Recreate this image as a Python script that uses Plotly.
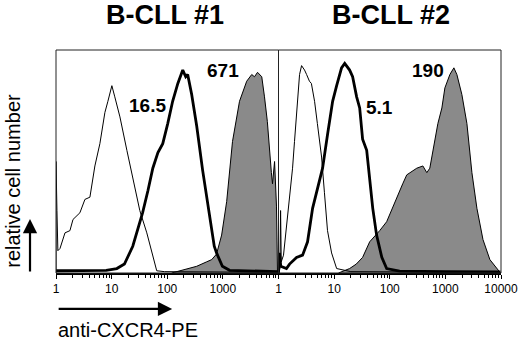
import plotly.graph_objects as go
from plotly.subplots import make_subplots

panel_titles = ["B-CLL #1", "B-CLL #2"]
x_axis_label = "anti-CXCR4-PE"
y_axis_label = "relative cell number"
tick_vals = [1, 10, 100, 1000, 10000]
tick_text_p1 = ["1", "10", "100", "1000", ""]
tick_text_p2 = ["1", "10", "100", "1000", "10000"]

# ---- Panel 1 (B-CLL #1) ----
p1_iso_x = [1.0, 1.0, 1.04, 1.08, 1.18, 1.45, 1.78, 2.02, 2.69, 3.31, 4.07, 5.0, 6.15, 7.57, 8.57,
            10.1, 11.4, 14.1, 18.8, 24.1, 32.1, 42.9, 55, 64.7, 90, 300, 3000, 9800]
p1_iso_y = [0.0, 0.50, 0.28, 0.10, 0.11, 0.18, 0.19, 0.24, 0.27, 0.33, 0.34, 0.48, 0.58, 0.72, 0.77,
            0.84, 0.79, 0.70, 0.55, 0.42, 0.28, 0.18, 0.07, 0.01, 0.006, 0.005, 0.004, 0.003]

p1_ab_x = [1.0, 3.0, 8.0, 12.4, 17, 24, 29.5, 36, 45, 55, 68, 83, 102, 110, 125, 155, 190, 215,
           233, 275, 338, 433, 580, 700, 770, 980, 1320, 5000, 9800]
p1_ab_y = [0.01, 0.01, 0.012, 0.02, 0.04, 0.12, 0.20, 0.27, 0.37, 0.47, 0.54, 0.58, 0.67, 0.71, 0.77,
           0.85, 0.91, 0.88, 0.89, 0.80, 0.66, 0.46, 0.24, 0.12, 0.09, 0.03, 0.012, 0.008, 0.006]

p1_cxcr4_x = [120, 167, 250, 338, 510, 630, 770, 950, 1170, 1490, 1990, 2680, 3300, 3700, 4200,
              5000, 5600, 6300, 7450, 7800, 8500, 9200, 9600]
p1_cxcr4_y = [0.0, 0.01, 0.02, 0.03, 0.05, 0.06, 0.085, 0.17, 0.32, 0.59, 0.77, 0.86, 0.89, 0.88, 0.90,
              0.88, 0.79, 0.68, 0.45, 0.40, 0.50, 0.30, 0.0]

# ---- Panel 2 (B-CLL #2) ----
p2_iso_x = [1.0, 1.06, 1.09, 1.12, 1.23, 1.39, 1.58, 1.79, 1.94, 2.2, 2.39, 2.6, 2.94, 3.2, 3.6,
            3.9, 4.45, 5.0, 5.95, 6.7, 7.6, 9.0, 11.1, 20, 200, 3000, 9800]
p2_iso_y = [0.0, 0.02, 0.28, 0.05, 0.08, 0.20, 0.32, 0.47, 0.59, 0.78, 0.89, 0.93, 0.91, 0.89, 0.86,
            0.85, 0.77, 0.67, 0.52, 0.36, 0.19, 0.09, 0.02, 0.006, 0.005, 0.004, 0.003]

p2_ab_x = [1.0, 1.04, 1.1, 1.39, 1.58, 2.11, 2.71, 3.33, 4.1, 5.05, 6.2, 7.6, 9.4, 11.1, 13.6, 15.5,
           19, 21.5, 25.4, 28.8, 32.5, 38.5, 43.6, 49.5, 58, 72, 88, 150, 1000, 9800]
p2_ab_y = [0.0, 0.09, 0.03, 0.02, 0.04, 0.07, 0.08, 0.14, 0.29, 0.38, 0.47, 0.62, 0.77, 0.84, 0.92, 0.94,
           0.91, 0.88, 0.79, 0.74, 0.60, 0.55, 0.41, 0.29, 0.17, 0.07, 0.02, 0.008, 0.006, 0.005]

p2_cxcr4_x = [12, 19, 25, 32.5, 43.6, 66, 88, 123, 171, 202, 260, 306, 394, 464, 525, 596, 646, 733,
              865, 980, 1205, 1422, 1610, 1980, 2440, 3000, 3690, 4740, 6310, 8830, 9800]
p2_cxcr4_y = [0.0, 0.02, 0.04, 0.07, 0.14, 0.19, 0.23, 0.32, 0.40, 0.44, 0.46, 0.47, 0.48, 0.45, 0.47,
              0.55, 0.59, 0.67, 0.74, 0.83, 0.89, 0.92, 0.89, 0.80, 0.67, 0.45, 0.29, 0.15, 0.06, 0.01, 0.0]

mfi_labels = [("16.5", 1, 1.65, 0.753), ("671", 1, 3.0, 0.906),
              ("5.1", 2, 1.82, 0.744), ("190", 2, 2.685, 0.906)]

FONT = "Liberation Sans, Arial, sans-serif"
FILL = "#8a8a8a"

fig = make_subplots(rows=1, cols=2, horizontal_spacing=0)

panels = [
    (p1_iso_x, p1_iso_y, p1_ab_x, p1_ab_y, p1_cxcr4_x, p1_cxcr4_y),
    (p2_iso_x, p2_iso_y, p2_ab_x, p2_ab_y, p2_cxcr4_x, p2_cxcr4_y),
]
for i, (ix, iy, ax_, ay_, cx, cy) in enumerate(panels, start=1):
    fig.add_trace(go.Scatter(x=cx, y=cy, mode="lines", fill="tozeroy", fillcolor=FILL,
                             line=dict(color="black", width=1)), row=1, col=i)
    fig.add_trace(go.Scatter(x=ix, y=iy, mode="lines",
                             line=dict(color="black", width=1)), row=1, col=i)
    fig.add_trace(go.Scatter(x=ax_, y=ay_, mode="lines",
                             line=dict(color="black", width=2.8)), row=1, col=i)

xcommon = dict(type="log", range=[0, 4], showgrid=False, zeroline=False,
               showline=True, linecolor="black", linewidth=2, mirror=False,
               ticks="outside", ticklen=4, tickwidth=1, tickcolor="black",
               tickfont=dict(family=FONT, size=12, color="black"),
               tickvals=tick_vals, automargin=False,
               minor=dict(ticks="outside", ticklen=2.5, tickcolor="black", dtick="D1", showgrid=False))
fig.update_xaxes(**xcommon)
fig.update_layout(
    xaxis=dict(domain=[0, 0.5], ticktext=tick_text_p1),
    xaxis2=dict(domain=[0.5, 1], ticktext=tick_text_p2),
)
fig.update_yaxes(range=[0, 1], showgrid=False, zeroline=False, showticklabels=False,
                 showline=False, ticks="", automargin=False)

for xr, yr in [("x domain", "y domain"), ("x2 domain", "y2 domain")]:
    fig.add_shape(type="rect", xref=xr, yref=yr, x0=0, x1=1, y0=0, y1=1,
                  line=dict(color="#222222", width=1), layer="above")

ann = []
title_x = [0.245, 0.753]
for t, xx in zip(panel_titles, title_x):
    ann.append(dict(text=t, xref="paper", yref="paper", x=xx, y=1.157, showarrow=False,
                    font=dict(family=FONT, size=27, color="black", weight="bold"),
                    xanchor="center", yanchor="middle"))
for txt, p, lx, ly in mfi_labels:
    ann.append(dict(text=txt, xref="x" if p == 1 else "x2", yref="y" if p == 1 else "y2",
                    x=lx, y=ly, showarrow=False, xanchor="center", yanchor="middle",
                    font=dict(family=FONT, size=19, color="black", weight="bold")))
ann.append(dict(text=x_axis_label, xref="paper", yref="paper", x=0.0, y=-0.256,
                showarrow=False, xanchor="left", yanchor="middle",
                font=dict(family=FONT, size=20, color="black")))
ann.append(dict(text=y_axis_label, xref="paper", yref="paper", x=-0.097, y=0.413,
                showarrow=False, textangle=-90, xanchor="center", yanchor="middle",
                font=dict(family=FONT, size=20, color="black")))
# arrows
ann.append(dict(text="", xref="paper", yref="paper", x=0.261, y=-0.161,
                axref="pixel", ayref="pixel", ax=-115, ay=0, showarrow=True,
                arrowhead=2, arrowsize=1.3, arrowwidth=2.2, arrowcolor="black"))
ann.append(dict(text="", xref="paper", yref="paper", x=-0.0584, y=0.242,
                axref="pixel", ayref="pixel", ax=0, ay=54, showarrow=True,
                arrowhead=2, arrowsize=1.3, arrowwidth=2.2, arrowcolor="black"))

fig.update_layout(
    width=520, height=340,
    margin=dict(l=56, r=19, t=50, b=67),
    paper_bgcolor="white", plot_bgcolor="white",
    showlegend=False, annotations=ann,
)

# remove the default page-body margin so the 520x340 figure fills the window exactly
fig.write_html("out.html",
               config={"displayModeBar": False},
               post_script="document.body.style.margin='0';document.body.style.overflow='hidden';")
